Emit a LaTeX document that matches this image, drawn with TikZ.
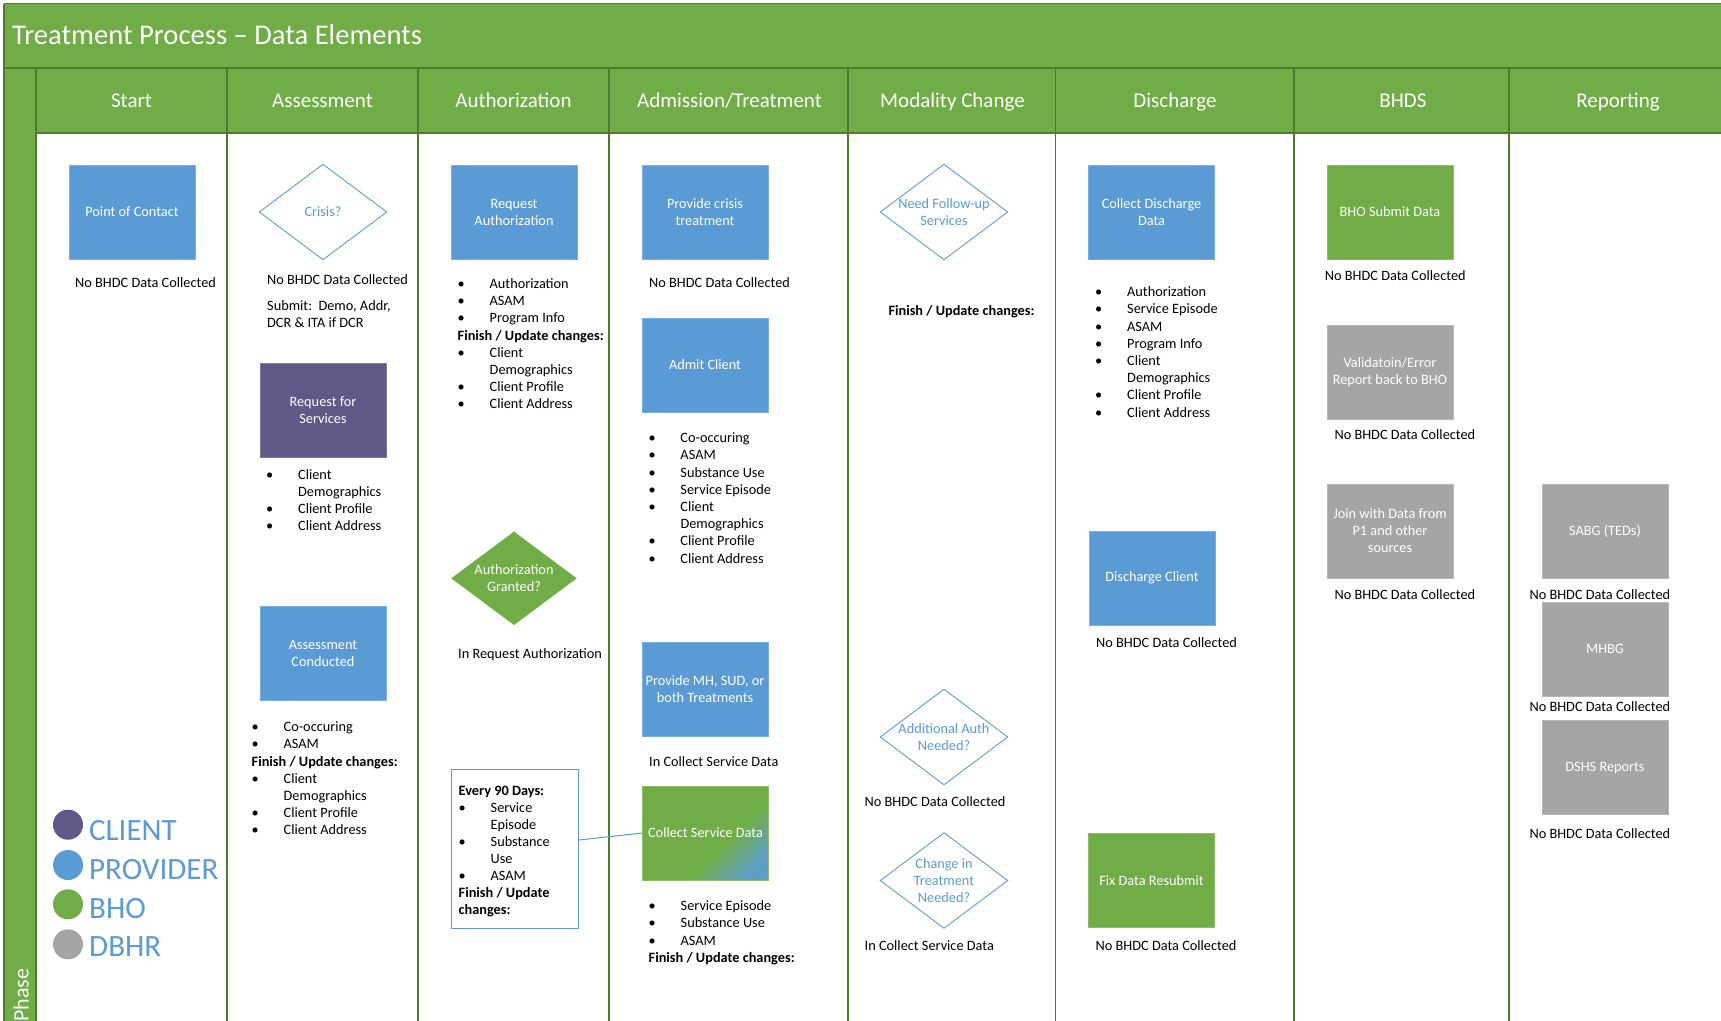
\documentclass[tikz,border=0pt]{standalone}
\usepackage{fontspec}
\setmainfont{Carlito}
\usetikzlibrary{backgrounds,calc}
\definecolor{bho}{HTML}{70AD47}
\definecolor{prov}{HTML}{5B9BD5}
\definecolor{cli}{HTML}{615887}
\definecolor{dbhr}{HTML}{A5A5A5}
\definecolor{rulec}{HTML}{4F7B31}
\pgfdeclareverticalshading{csdshade}{100bp}{color(0bp)=(prov); color(24bp)=(prov!85!bho); color(40bp)=(bho); color(100bp)=(bho)}
\newcommand\bulx{\makebox[32pt][l]{\textbullet}}
\newcommand\indx{\hspace*{32pt}}
\newcommand\txtlist[5]{\foreach \itm [count=\k from 0] in {#5}{\node[txt] (#1-\k) at (#2,{#3+#4*\k}) {\itm};}}
\begin{document}
\begin{tikzpicture}[x=1pt,y=-1pt,
  box/.style={rectangle, minimum width=126pt, minimum height=94pt, inner sep=0pt, align=center, text=white, font=\fontsize{14.3}{17}\selectfont, draw=#1!80!white, fill=#1, line width=0.6pt},
  dia/.style={rectangle, minimum width=127pt, minimum height=95pt, inner sep=0pt, align=center, text=prov, font=\fontsize{14.3}{17}\selectfont},
  diaedge/.style={draw=prov, line width=0.9pt},
  txt/.style={anchor=base west, inner sep=0pt, font=\fontsize{14.3}{17}\selectfont, text=black},
  hdr/.style={anchor=base, inner sep=0pt, text=white, font=\fontsize{21}{25}\selectfont},
  rulel/.style={draw=rulec, line width=1.5pt},
  legdot/.style={circle, fill=#1, minimum size=30pt, inner sep=0pt},
  legt/.style={anchor=base west, inner sep=0pt, text=prov, font=\fontsize{31}{37}\selectfont}]
\begin{scope}[on background layer]
\fill[white] (0,0) rectangle (1721,1020);
\end{scope}
\clip (0,0) rectangle (1721,1020);
\useasboundingbox (0,0) rectangle (1721,1020);
% title, strip, header
\fill[bho] (4,3.5) rectangle (1725,133);
\fill[bho] (4,68) rectangle (36,1025);
\node[anchor=base west, inner sep=0pt, text=white, font=\fontsize{28.6}{34}\selectfont] (title) at (12,44) {Treatment Process -- Data Elements};
\node[anchor=base west, inner sep=0pt, text=white, rotate=90, font=\fontsize{22}{26}\selectfont] (phase) at (28.5,1022) {Phase};
\draw[rulel] (4,3.5) -- (1725,3.5);
\draw[rulel] (4,3.5) -- (4,1025);
\draw[rulel] (4,68) -- (1725,68);
\draw[rulel] (36,133) -- (1725,133);
\foreach \xx in {36,227,418,609,848,1055.5,1294,1509} \draw[rulel] (\xx,68) -- (\xx,1025);
\node[hdr] (h1) at (131.5,107.3) {Start};
\node[hdr] (h2) at (322.5,107.3) {Assessment};
\node[hdr] (h3) at (513.5,107.3) {Authorization};
\node[hdr] (h4) at (729.5,107.3) {Admission/Treatment};
\node[hdr] (h5) at (952.5,107.3) {Modality Change};
\node[hdr] (h6) at (1175,107.3) {Discharge};
\node[hdr] (h7) at (1403,107.3) {BHDS};
\node[hdr] (h8) at (1618,107.3) {Reporting};
% Start
\node[box=prov] (poc) at (132,212) {Point of Contact};
\node[txt] (poc-t) at (75,287) {No BHDC Data Collected};
% Assessment
\node[dia] (crisis) at (323,212) {Crisis?};
\draw[diaedge] (crisis.north) -- (crisis.east) -- (crisis.south) -- (crisis.west) -- cycle;
\node[txt] (crisis-t) at (267,284) {No BHDC Data Collected};
\txtlist{as2}{267}{310.7}{17}{{Submit:\ \ Demo, Addr,},{DCR \& ITA if DCR}}
\node[box=cli] (rfs) at (323,410.5) {Request for\\Services};
\txtlist{as3}{266}{479.7}{17}{{\bulx Client},{\indx Demographics},{\bulx Client Profile},{\bulx Client Address}}
\node[box=prov] (ac) at (323,653) {Assessment\\Conducted};
\txtlist{as4}{251.5}{731.7}{17.2}{{\bulx Co-occuring},{\bulx ASAM},{\bfseries Finish / Update changes:},{\bulx Client},{\indx Demographics},{\bulx Client Profile},{\bulx Client Address}}
% Authorization
\node[box=prov] (ra) at (514,212) {Request\\Authorization};
\txtlist{au1}{457.5}{288.7}{17.1}{{\bulx Authorization},{\bulx ASAM},{\bulx Program Info},{\bfseries Finish / Update changes:},{\bulx Client},{\indx Demographics},{\bulx Client Profile},{\bulx Client Address}}
\node[dia, text=white, minimum width=125pt, minimum height=93pt] (ag) at (514,578.3) {Authorization\\Granted?};
\begin{scope}[on background layer]
\fill[bho] (ag.north) -- (ag.east) -- (ag.south) -- (ag.west) -- cycle;
\end{scope}
\node[txt] (ag-t) at (458,658.7) {In Request Authorization};
\node[rectangle, draw=prov, line width=1pt, fill=white, minimum width=127pt, minimum height=159pt, inner sep=0pt] (e90) at (515,848.6) {};
\txtlist{e9}{458.5}{795}{17.1}{{\bfseries Every 90 Days:},{\bulx Service},{\indx Episode},{\bulx Substance},{\indx Use},{\bulx ASAM},{\bfseries Finish / Update},{\bfseries changes:}}
% Admission / Treatment
\node[box=prov] (pct) at (705,212) {Provide crisis\\treatment};
\node[txt] (pct-t) at (649,287.7) {No BHDC Data Collected};
\node[box=prov] (admit) at (705,365) {Admit Client};
\txtlist{ad1}{648.3}{442.7}{17.2}{{\bulx Co-occuring},{\bulx ASAM},{\bulx Substance Use},{\bulx Service Episode},{\bulx Client},{\indx Demographics},{\bulx Client Profile},{\bulx Client Address}}
\node[box=prov] (pmh) at (705,689) {Provide MH, SUD, or\\both Treatments};
\node[txt] (pmh-t) at (649,766.7) {In Collect Service Data};
\node[box=bho, shading=csdshade, shading angle=45] (csd) at (705.5,833) {Collect Service Data};
\txtlist{ad2}{648.5}{910.7}{17.2}{{\bulx Service Episode},{\bulx Substance Use},{\bulx ASAM},{\bfseries Finish / Update changes:}}
\draw[draw=prov, line width=1pt] ([yshift=8.6pt]e90.east) -- (csd.west);
% Modality change
\node[dia] (nfu) at (944,212) {Need Follow-up\\Services};
\draw[diaedge] (nfu.north) -- (nfu.east) -- (nfu.south) -- (nfu.west) -- cycle;
\node[txt] (nfu-t) at (888.3,315.7) {\bfseries Finish / Update changes:};
\node[dia] (aan) at (944,737) {Additional Auth\\Needed?};
\draw[diaedge] (aan.north) -- (aan.east) -- (aan.south) -- (aan.west) -- cycle;
\node[txt] (aan-t) at (864.5,806.7) {No BHDC Data Collected};
\node[dia] (cit) at (944,880.5) {Change in\\Treatment\\Needed?};
\draw[diaedge] (cit.north) -- (cit.east) -- (cit.south) -- (cit.west) -- cycle;
\node[txt] (cit-t) at (864.5,950.7) {In Collect Service Data};
% Discharge
\node[box=prov] (cdd) at (1151.5,212) {Collect Discharge\\Data};
\txtlist{dc1}{1095}{296.7}{17.2}{{\bulx Authorization},{\bulx Service Episode},{\bulx ASAM},{\bulx Program Info},{\bulx Client},{\indx Demographics},{\bulx Client Profile},{\bulx Client Address}}
\node[box=prov] (dcl) at (1152,578) {Discharge Client};
\node[txt] (dcl-t) at (1096,647.7) {No BHDC Data Collected};
\node[box=bho] (fdr) at (1151.5,880.5) {Fix Data Resubmit};
\node[txt] (fdr-t) at (1095.5,950.7) {No BHDC Data Collected};
% BHDS
\node[box=bho] (bsd) at (1390,212) {BHO Submit Data};
\node[txt] (bsd-t) at (1324.7,280.7) {No BHDC Data Collected};
\node[box=dbhr] (val) at (1390,372) {Validatoin/Error\\Report back to BHO};
\node[txt] (val-t) at (1334.3,439.7) {No BHDC Data Collected};
\node[box=dbhr] (join) at (1390,531) {Join with Data from\\P1 and other\\sources};
\node[txt] (join-t) at (1334.3,599.3) {No BHDC Data Collected};
% Reporting
\node[box=dbhr] (sabg) at (1605,531) {SABG (TEDs)};
\node[txt] (sabg-t) at (1529.3,599.3) {No BHDC Data Collected};
\node[box=dbhr] (mhbg) at (1605,649) {MHBG};
\node[txt] (mhbg-t) at (1529.3,711.7) {No BHDC Data Collected};
\node[box=dbhr] (dshs) at (1605,767.7) {DSHS Reports};
\node[txt] (dshs-t) at (1529.3,838.7) {No BHDC Data Collected};
% Legend
\node[legdot=cli] (lc1) at (68,824.7) {};
\node[legdot=prov] (lc2) at (68,865) {};
\node[legdot=bho] (lc3) at (68,904.3) {};
\node[legdot=dbhr] (lc4) at (68,944.3) {};
\node[legt] (lt1) at (89,840.7) {CLIENT};
\node[legt] (lt2) at (89,879.3) {PROVIDER};
\node[legt] (lt3) at (89,918) {BHO};
\node[legt] (lt4) at (89,956) {DBHR};
\end{tikzpicture}
\end{document}
